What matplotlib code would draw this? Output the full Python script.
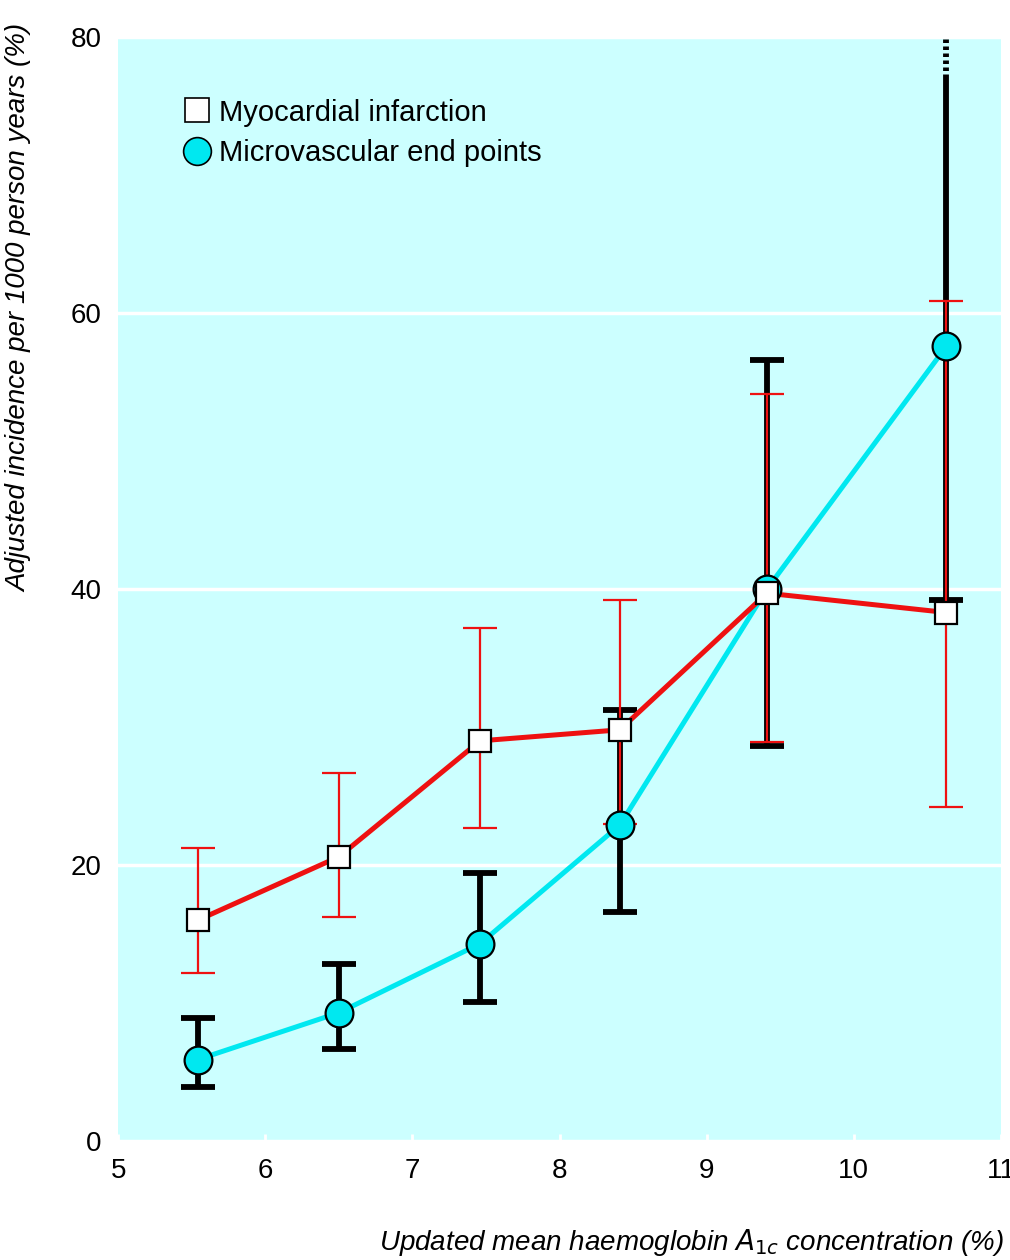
import matplotlib.pyplot as plt
import numpy as np
from matplotlib.lines import Line2D

plt.rcParams['font.family'] = ['Liberation Sans Narrow', 'Liberation Sans', 'DejaVu Sans']
plt.rcParams['mathtext.default'] = 'it'

# data
hba1c = [5.54, 6.50, 7.46, 8.41, 9.41, 10.63]
mi = [16.0, 20.6, 29.0, 29.8, 39.7, 38.3]
mi_lo = [12.2, 16.2, 22.7, 23.0, 28.9, 24.2]
mi_hi = [21.2, 26.7, 37.2, 39.2, 54.1, 60.9]
micro = [5.9, 9.3, 14.3, 22.9, 40.0, 57.6]
micro_lo = [3.9, 6.7, 10.1, 16.6, 28.6, 39.2]
micro_hi = [8.9, 12.8, 19.4, 31.2, 56.6, 77.0]
off_scale = [77.0, 80.0]   # dotted extension of last microvascular bar

x = np.array(hba1c)
mi = np.array(mi); micro = np.array(micro)
micro_lo = np.array(micro_lo); micro_hi = np.array(micro_hi)

fig = plt.figure(figsize=(10.1, 12.6), dpi=100)
ax = fig.add_axes([0.117, 0.0944, 0.874, 0.8762])
ax.set_facecolor('#ccffff')
for s in ax.spines.values():
    s.set_visible(False)

ax.set_xlim(5, 11)
ax.set_ylim(0, 80)
ax.set_xticks(range(5, 12))
ax.set_yticks(range(0, 81, 20))
ax.grid(axis='y', color='white', lw=2.5, zorder=0)
ax.tick_params(axis='both', labelsize=20, direction='in', color='white',
               length=5, width=2, pad=12)

red = '#ee1111'
cyan = '#00e8f0'

# black bars: the last one runs off the scale, so no upper cap
ax.errorbar(x[:5], micro[:5], yerr=[micro[:5] - micro_lo[:5], micro_hi[:5] - micro[:5]],
            fmt='none', ecolor='black', elinewidth=4.2, capsize=12, capthick=4.2, zorder=2)
ax.vlines(x[5], micro_lo[5], micro_hi[5], color='black', lw=4.2, zorder=2)
ax.plot(x[5], micro_lo[5], marker='_', ms=24, mew=4.2, color='black', zorder=2)
ax.plot([x[-1], x[-1]], off_scale, color='black', lw=4.2, ls=(0, (0.6, 0.6)), zorder=2)

ax.errorbar(x, mi, yerr=[mi - np.array(mi_lo), np.array(mi_hi) - mi],
            fmt='none', ecolor=red, elinewidth=1.6, capsize=12, capthick=1.6, zorder=3)

ax.plot(x, micro, color=cyan, lw=3.6, zorder=4)
ax.plot(x, mi, color=red, lw=3.6, zorder=4)
ax.plot(x, micro, 'o', ms=20, mfc=cyan, mec='black', mew=1.6, zorder=5)
ax.plot(x, mi, 's', ms=16, mfc='white', mec='black', mew=1.6, zorder=6)

handles = [Line2D([], [], marker='s', ls='none', ms=17, mfc='white', mec='black', mew=1.2),
           Line2D([], [], marker='o', ls='none', ms=20, mfc=cyan, mec='black', mew=1.2)]
ax.legend(handles, ['Myocardial infarction', 'Microvascular end points'],
          loc='upper left', bbox_to_anchor=(0.04, 0.968), frameon=False,
          fontsize=21, handletextpad=0.15, labelspacing=0.42, handlelength=1.2)

ax.set_ylabel('Adjusted incidence per 1000 person years (%)', fontsize=20,
              style='italic', labelpad=0)
ax.yaxis.set_label_coords(-0.097, 0.755)
ax.set_xlabel('Updated mean haemoglobin $A_{1c}$ concentration (%)', fontsize=20,
              style='italic', ha='right')
ax.xaxis.set_label_coords(1.003, -0.078)

fig.savefig('out.png', dpi=100)
